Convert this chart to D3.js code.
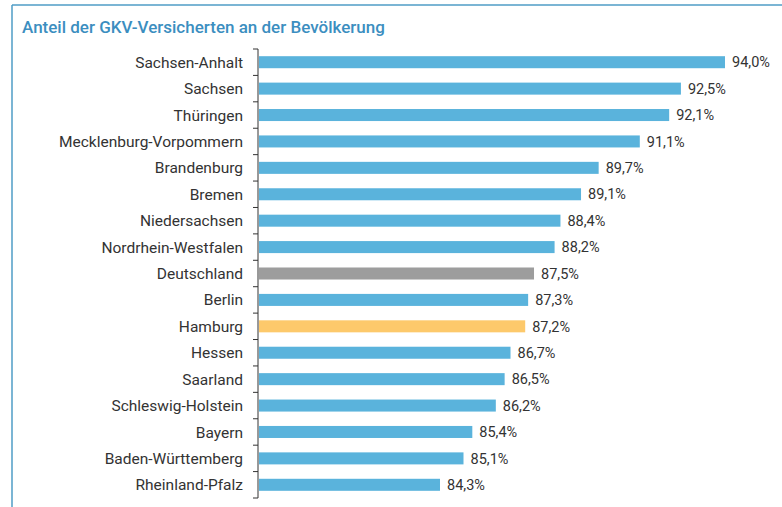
<!DOCTYPE html>
<html>
<head>
<meta charset="utf-8">
<script src="https://cdn.jsdelivr.net/npm/d3@7"></script>
<style>
  html, body { margin: 0; padding: 0; background: #fff; }
  svg { display: block; }
</style>
</head>
<body>
<svg id="chart" width="782" height="507"></svg>
<script>
const title = "Anteil der GKV-Versicherten an der Bevölkerung";
const categories = ["Sachsen-Anhalt","Sachsen","Thüringen","Mecklenburg-Vorpommern","Brandenburg","Bremen","Niedersachsen","Nordrhein-Westfalen","Deutschland","Berlin","Hamburg","Hessen","Saarland","Schleswig-Holstein","Bayern","Baden-Württemberg","Rheinland-Pfalz"];
const values = [94.0,92.5,92.1,91.1,89.7,89.1,88.4,88.2,87.5,87.3,87.2,86.7,86.5,86.2,85.4,85.1,84.3];
const highlight = {"Deutschland": "#9d9d9d", "Hamburg": "#fdc96b"};
const baseColor = "#5ab3dc";

const svg = d3.select("#chart");
const fmt = v => d3.format(".1f")(v).replace(".", ",") + "%";
const font = "Roboto, 'Open Sans', sans-serif";

// frame
svg.append("line").attr("x1", 12).attr("x2", 782).attr("y1", 5).attr("y2", 5)
  .attr("stroke", "#4f9cc6").attr("stroke-width", 1.5);
svg.append("line").attr("x1", 12).attr("x2", 12).attr("y1", 5).attr("y2", 507)
  .attr("stroke", "#4f9cc6").attr("stroke-width", 1.5);

svg.append("text").attr("x", 22).attr("y", 33)
  .attr("font-family", font).attr("font-size", 17).attr("font-weight", 500)
  .attr("fill", "#3b8ec0").text(title);

const axisX = 258;
const plotTop = 49, plotBottom = 498;
const x = d3.scaleLinear().domain([78.14, 94.0]).range([axisX + 1, 725]);
const y = d3.scaleBand().domain(categories).range([plotTop, plotBottom]).paddingInner(0.545).paddingOuter(0.2725);

// bars
svg.append("g").selectAll("rect").data(categories).join("rect")
  .attr("x", x(78.14))
  .attr("y", d => y(d))
  .attr("width", (d, i) => x(values[i]) - x(78.14))
  .attr("height", y.bandwidth())
  .attr("fill", d => highlight[d] || baseColor);

// value labels
svg.append("g").selectAll("text").data(categories).join("text")
  .attr("x", (d, i) => x(values[i]) + 7)
  .attr("y", d => y(d) + y.bandwidth() / 2)
  .attr("dy", "0.36em")
  .attr("font-family", font).attr("font-size", 14.5)
  .attr("fill", "#333").text((d, i) => fmt(values[i]));

// axis line
svg.append("line").attr("x1", axisX).attr("x2", axisX).attr("y1", plotTop).attr("y2", plotBottom)
  .attr("stroke", "#333").attr("stroke-width", 1);
// ticks at band boundaries
const bounds = d3.range(categories.length + 1).map(i => plotTop + i * (plotBottom - plotTop) / categories.length);
svg.append("g").selectAll("line").data(bounds).join("line")
  .attr("x1", axisX - 5).attr("x2", axisX).attr("y1", d => d).attr("y2", d => d)
  .attr("stroke", "#333").attr("stroke-width", 1);

// category labels
svg.append("g").selectAll("text").data(categories).join("text")
  .attr("x", axisX - 15)
  .attr("y", d => y(d) + y.bandwidth() / 2)
  .attr("dy", "0.36em")
  .attr("text-anchor", "end")
  .attr("font-family", font).attr("font-size", 15.5)
  .attr("fill", "#333").text(d => d);
</script>
</body>
</html>
